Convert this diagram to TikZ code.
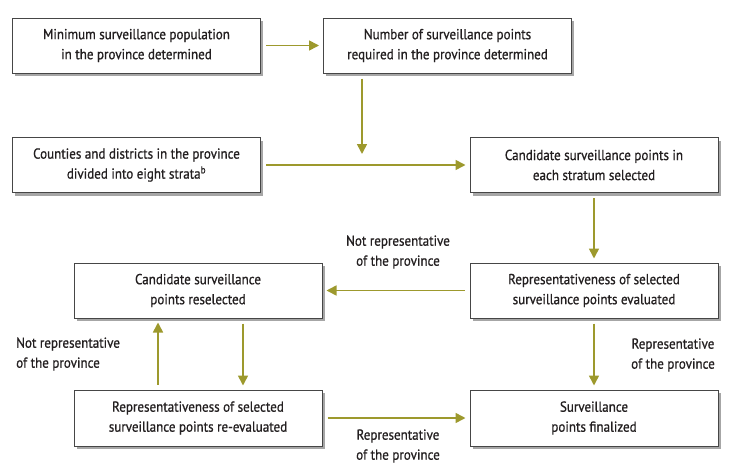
\documentclass[tikz,border=0pt]{standalone}
\usepackage{fontspec}
\setmainfont{PT Sans}[FakeStretch=0.9,FakeBold=0.8]
\usetikzlibrary{arrows.meta,shadows}
\definecolor{arrcol}{RGB}{157,153,45}
\definecolor{boxline}{RGB}{70,70,70}
\definecolor{txt}{RGB}{35,31,32}
\tikzset{
  box/.style={draw=boxline, line width=1pt, fill=white, minimum width=248pt, minimum height=55pt,
    align=center, text=txt, font=\fontsize{14.5}{20}\selectfont,
    drop shadow={shadow xshift=2.5pt, shadow yshift=-3pt, fill=black!35, opacity=1}},
  arr/.style={draw=arrcol, line width=1.6pt, -{Triangle[length=10pt,width=10pt]}, shorten <=5pt, shorten >=4pt},
  lbl/.style={text=txt, font=\fontsize{14.5}{20}\selectfont, inner sep=0pt}
}
\begin{document}
\begin{tikzpicture}[x=1pt,y=-1pt]
\useasboundingbox (0,0) rectangle (731,466);
\node[box] (b1) at (136.5,45.5) {Minimum surveillance population\\in the province determined};
\node[box] (b2) at (447.5,45.5) {Number of surveillance points\\required in the province determined};
\node[box] (b3) at (136.5,165) {Counties and districts in the province\\divided into eight strata\textsuperscript{b}};
\node[box] (b4) at (594,165) {Candidate surveillance points in\\each stratum selected};
\node[box] (b5) at (198,290.5) {Candidate surveillance\\points reselected};
\node[box] (b6) at (594,290.5) {Representativeness of selected\\surveillance points evaluated};
\node[box,minimum height=56pt] (b7) at (198,418) {Representativeness of selected\\surveillance points re-evaluated};
\node[box,minimum height=56pt] (b8) at (594,418) {Surveillance\\points finalized};
\coordinate (jn) at (362,164);
\coordinate (cd) at (243,0);
\coordinate (cu) at (158,0);
\draw[arr] (b1.east) -- (b2.west);
\draw[arr] (b2.south -| jn) -- ([yshift=6pt]jn);
\draw[arr] (b3.east) -- (b4.west);
\draw[arr] (b4.south) -- (b6.north);
\draw[arr] (b6.west) -- (b5.east);
\draw[arr] (b5.south -| cd) -- (b7.north -| cd);
\draw[arr] (b7.north -| cu) -- (b5.south -| cu);
\draw[arr] (b6.south) -- (b8.north);
\draw[arr] (b7.east) -- (b8.west);
\node[lbl, align=center] (l1) at (398,252) {Not representative\\of the province};
\node[lbl, align=left, anchor=west] (l2) at (16,354) {Not representative\\of the province};
\node[lbl, align=center] (l3) at (673,355) {Representative\\of the province};
\node[lbl, align=center] (l4) at (398,446) {Representative\\of the province};
\end{tikzpicture}
\end{document}
